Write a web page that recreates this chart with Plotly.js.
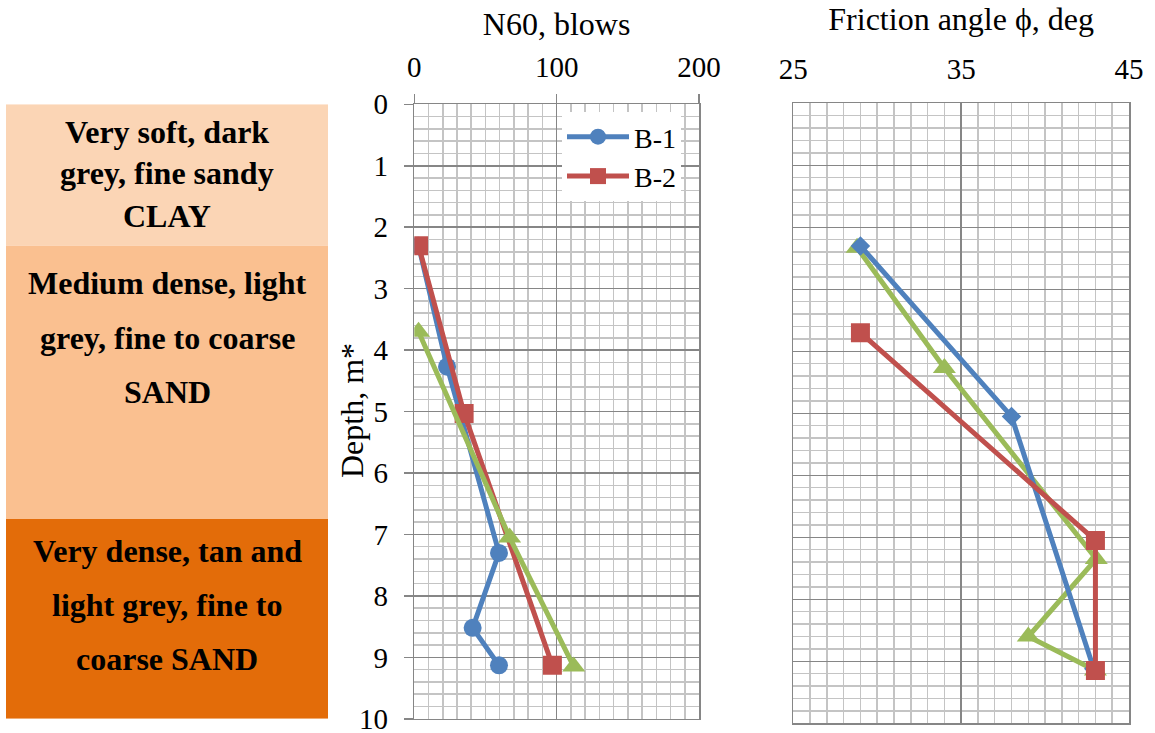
<!DOCTYPE html>
<html>
<head>
<meta charset="utf-8">
<script src="https://cdn.plot.ly/plotly-3.0.1.min.js"></script>
<style>html,body{margin:0;padding:0;background:#fff;}#chart{width:1155px;height:733px;}</style>
</head>
<body>
<div id="chart"></div>
<script>
// ---- Data ----
// N60 profile
const depthN_B1 = [2.3, 4.27, 7.3, 8.52, 9.13];
const n60_B1    = [3, 23, 59.5, 41, 59.5];
const depthN_B2 = [2.3, 5.03, 9.13];
const n60_B2    = [3, 35, 97];
const depthN_B3 = [3.7, 7.05, 9.15];
const n60_B3    = [3, 67, 112];
// Friction angle profile
const depthF_B1 = [2.3, 5.05, 9.12];
const phi_B1    = [29, 38, 42.9];
const depthF_B2 = [3.7, 7.05, 9.15];
const phi_B2    = [29, 43, 43];
const depthF_B3 = [2.33, 4.27, 7.35, 8.6, 9.15];
const phi_B3    = [28.8, 34, 43.05, 39, 43];
// Soil layers
const layerTop    = [0, 2.3, 6.75];
const layerBottom = [2.3, 6.75, 10];
const layerText = [
  ["Very soft, dark", "grey, fine sandy", "CLAY"],
  ["Medium dense, light", "grey, fine to coarse", "SAND"],
  ["Very dense, tan and", "light grey, fine to", "coarse SAND"]
];
const seriesNames = ["B-1", "B-2", "B-3"];
const nTicks = [0, 100, 200];
const phiTicks = [25, 35, 45];
const depthTicks = [0,1,2,3,4,5,6,7,8,9,10];

// ---- Styles ----
const W = 1155, H = 733;
const blue = '#4F81BD', red = '#C0504D', green = '#9BBB59';
const layerColors = ['#FBD5B5', '#FAC090', '#E36C09'];
const serif = 'Liberation Serif, Times New Roman, serif';
const major = '#868686', minorC = '#c4c4c4';
const px = (x) => x / W, py = (y) => 1 - y / H;
const fnt = (s) => ({family: serif, size: s, color: '#000'});

const lw = 5;
const mk = {
  circle:  {symbol: 'circle', size: 18, color: blue},
  square:  {symbol: 'square', size: 19, color: red},
  tri:     {symbol: 'triangle-up', size: 20, color: green},
  diamond: {symbol: 'diamond', size: 15, color: blue}
};
const traces = [
  {x: n60_B1, y: depthN_B1, name: seriesNames[0], mode: 'lines+markers', xaxis: 'x', yaxis: 'y',
   line: {color: blue, width: lw}, marker: mk.circle},
  {x: n60_B2, y: depthN_B2, name: seriesNames[1], mode: 'lines+markers', xaxis: 'x', yaxis: 'y',
   line: {color: red, width: lw}, marker: mk.square},
  {x: n60_B3, y: depthN_B3, name: seriesNames[2], mode: 'lines+markers', xaxis: 'x', yaxis: 'y', showlegend: false,
   line: {color: green, width: lw}, marker: mk.tri},
  {x: phi_B3, y: depthF_B3, name: seriesNames[2], mode: 'lines+markers', xaxis: 'x2', yaxis: 'y2', showlegend: false,
   line: {color: green, width: lw}, marker: mk.tri},
  {x: phi_B1, y: depthF_B1, name: seriesNames[0], mode: 'lines+markers', xaxis: 'x2', yaxis: 'y2', showlegend: false,
   line: {color: blue, width: lw}, marker: mk.diamond},
  {x: phi_B2, y: depthF_B2, name: seriesNames[1], mode: 'lines+markers', xaxis: 'x2', yaxis: 'y2', showlegend: false,
   line: {color: red, width: lw}, marker: mk.square}
];

function gridAxis(extra) {
  return Object.assign({
    showline: true, mirror: true, linecolor: major, linewidth: 1.5,
    showgrid: true, gridcolor: major, gridwidth: 1.5, zeroline: false,
    tickfont: fnt(29), ticklabeloverflow: 'allow'
  }, extra);
}

const shapes = layerTop.map((t, i) => ({
  type: 'rect', xref: 'paper', yref: 'y', x0: px(6), x1: px(328), y0: t, y1: layerBottom[i],
  fillcolor: layerColors[i], line: {width: 0}, layer: 'below'
}));

const lineOffsets = [[0.45, 1.12, 1.82], [0.61, 1.5, 2.38], [0.52, 1.39, 2.28]];
const annotations = [];
layerText.forEach((lines, i) => {
  lines.forEach((t, j) => {
    annotations.push({xref: 'paper', yref: 'y', x: px(167), y: layerTop[i] + lineOffsets[i][j],
      text: '<b>' + t + '</b>', showarrow: false, xanchor: 'center', yanchor: 'middle',
      font: fnt(32)});
  });
});
annotations.push({xref: 'paper', yref: 'paper', x: px(352), y: py(411), text: 'Depth, m*', textangle: -90,
  showarrow: false, xanchor: 'center', yanchor: 'middle', font: fnt(32)});

const layout = {
  width: W, height: H, margin: {l: 0, r: 0, t: 0, b: 0},
  paper_bgcolor: '#fff', plot_bgcolor: '#fff',
  font: fnt(29),
  xaxis: gridAxis({domain: [px(414.3), px(699)], range: [0, 200], side: 'top', anchor: 'y',
    tickmode: 'array', tickvals: nTicks, ticks: 'outside', ticklen: 9, tickcolor: major, tickwidth: 1.5,
    ticklabelstandoff: 5,
    minor: {dtick: 10, tick0: 0, showgrid: true, gridcolor: minorC, gridwidth: 1.5},
    title: {text: 'N60, blows', standoff: 6, font: fnt(32)}}),
  yaxis: gridAxis({domain: [py(718.8), py(104.3)], range: [10, 0], anchor: 'x',
    tickmode: 'array', tickvals: depthTicks, ticks: 'outside', ticklen: 9, tickcolor: major, tickwidth: 1.5,
    ticklabelstandoff: 10,
    minor: {dtick: 0.2, tick0: 0, showgrid: true, gridcolor: minorC, gridwidth: 1.5}}),
  xaxis2: gridAxis({domain: [px(793.3), px(1129)], range: [25, 45], side: 'top', anchor: 'y2',
    tickmode: 'array', tickvals: phiTicks, ticks: 'outside', ticklen: 9, tickcolor: 'rgba(0,0,0,0)',
    ticklabelstandoff: 2,
    minor: {dtick: 1, tick0: 25, showgrid: true, gridcolor: minorC, gridwidth: 1.5},
    title: {text: 'Friction angle ϕ, deg', standoff: 13, font: fnt(32)}}),
  yaxis2: gridAxis({domain: [py(723.3), py(103.3)], range: [10, 0], anchor: 'x2',
    tickmode: 'array', tickvals: depthTicks, showticklabels: false, ticks: '',
    minor: {dtick: 0.2, tick0: 0, showgrid: true, gridcolor: minorC, gridwidth: 1.5}}),
  showlegend: true,
  legend: {x: px(562), y: py(112), xanchor: 'left', yanchor: 'top', bgcolor: '#fff', borderwidth: 0,
    font: fnt(28), itemwidth: 62, tracegroupgap: 0},
  shapes: shapes,
  annotations: annotations
};

Plotly.newPlot('chart', traces, layout, {staticPlot: true, displayModeBar: false});
</script>
</body>
</html>
